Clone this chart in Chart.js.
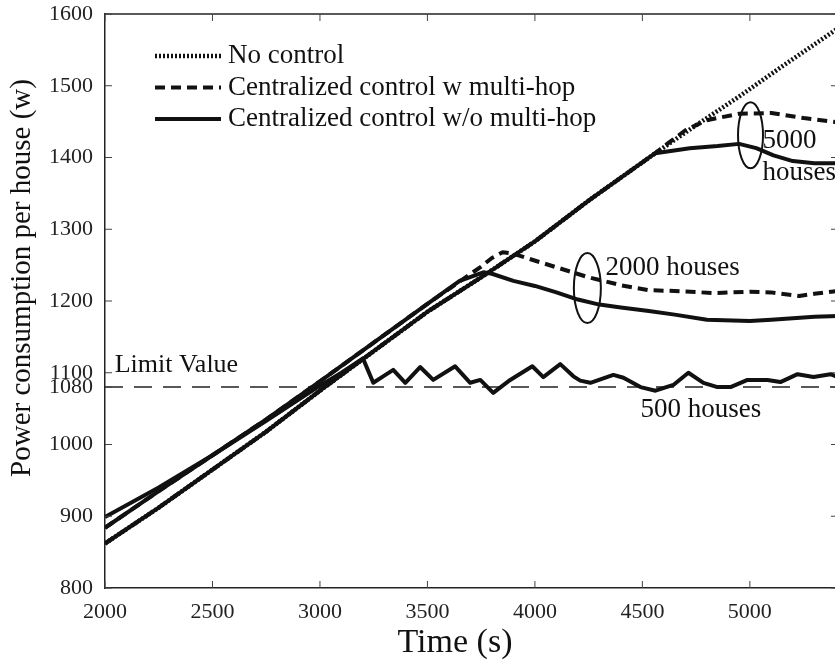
<!DOCTYPE html>
<html>
<head>
<meta charset="utf-8">
<script src="https://cdn.jsdelivr.net/npm/chart.js@4.4.1/dist/chart.umd.min.js"></script>
<style>
  html, body { margin: 0; padding: 0; background: #fff; overflow: hidden; }
  #wrap { position: relative; width: 840px; height: 663px; }
</style>
</head>
<body>
<div id="wrap"><canvas id="powerChart"></canvas></div>
<script>
// axis ticks
const timeTicks = [2000, 2500, 3000, 3500, 4000, 4500, 5000];
const powerTicks = [800, 900, 1000, 1080, 1100, 1200, 1300, 1400, 1500, 1600];
const limitValue = 1080;

// No control (dotted)
const noControlT = [2000, 2250, 2500, 2750, 3000, 3250, 3500, 3750, 4000, 4250, 4560, 4750, 4950, 5150, 5410];
const noControlV = [862, 912, 965, 1018, 1075, 1130, 1185, 1233, 1283, 1340, 1406, 1445, 1485, 1527, 1580];

// Centralized control w multi-hop (dashed)
const hop2000T = [2000, 2250, 2500, 2750, 3000, 3250, 3500, 3750, 3800, 3850, 3900, 3960, 4100, 4250, 4400, 4530, 4650, 4840, 5000, 5100, 5230, 5300, 5410];
const hop2000V = [884, 935, 985, 1035, 1088, 1142, 1196, 1248, 1260, 1268, 1266, 1260, 1247, 1233, 1222, 1215, 1214, 1211, 1213, 1212, 1207, 1210, 1214];
const hop5000T = [2000, 2250, 2500, 2750, 3000, 3250, 3500, 3750, 4000, 4250, 4560, 4620, 4700, 4800, 4950, 5100, 5250, 5410];
const hop5000V = [862, 912, 965, 1018, 1075, 1130, 1185, 1233, 1283, 1340, 1406, 1420, 1438, 1452, 1461, 1462, 1455, 1449];

// Centralized control w/o multi-hop (solid)
const direct500T = [2000, 2250, 2500, 2750, 3000, 3100, 3200, 3248, 3294, 3341, 3397, 3466, 3527, 3629, 3699, 3746, 3806, 3885, 3988, 4039, 4118, 4179, 4211, 4258, 4365, 4412, 4491, 4561, 4644, 4714, 4784, 4849, 4910, 4989, 5082, 5142, 5222, 5296, 5375, 5410];
const direct500V = [899, 940, 985, 1033, 1082, 1100, 1120, 1086, 1095, 1104, 1086, 1108, 1090, 1109, 1086, 1090, 1072, 1090, 1109, 1094, 1112, 1095, 1089, 1086, 1097, 1093, 1080, 1075, 1083, 1100, 1086, 1080, 1080, 1090, 1090, 1087, 1098, 1094, 1098, 1094];
const direct2000T = [2000, 2250, 2500, 2750, 3000, 3250, 3500, 3650, 3760, 3800, 3900, 4000, 4100, 4200, 4300, 4400, 4530, 4650, 4800, 5000, 5100, 5200, 5300, 5410];
const direct2000V = [884, 935, 985, 1035, 1088, 1142, 1196, 1228, 1240, 1238, 1228, 1221, 1212, 1202, 1195, 1191, 1186, 1181, 1174, 1172, 1174, 1176, 1178, 1179];
const direct5000T = [2000, 2250, 2500, 2750, 3000, 3250, 3500, 3750, 4000, 4250, 4560, 4720, 4850, 4950, 5030, 5110, 5200, 5300, 5410];
const direct5000V = [862, 912, 965, 1018, 1075, 1130, 1185, 1233, 1283, 1340, 1406, 1413, 1416, 1419, 1413, 1403, 1395, 1392, 1392];

const limitT = [2000, 5410];
const limitV = [limitValue, limitValue];

const SERIF = "'Liberation Serif', 'Times New Roman', serif";
const INK = '#111';

function toPoints(ts, vs) {
    return ts.map((t, i) => ({ x: t, y: vs[i] }));
}

const solidStyle = { borderColor: INK, borderWidth: 4, borderDash: [] };
const dashStyle = { borderColor: INK, borderWidth: 4, borderDash: [10, 6] };
const dotStyle = { borderColor: INK, borderWidth: 4.5, borderDash: [2, 2] };

const datasets = [
    { label: 'w/o 500', data: toPoints(direct500T, direct500V), ...solidStyle },
    { label: 'w/o 2000', data: toPoints(direct2000T, direct2000V), ...solidStyle },
    { label: 'w/o 5000', data: toPoints(direct5000T, direct5000V), ...solidStyle },
    { label: 'w 2000', data: toPoints(hop2000T, hop2000V), ...dashStyle },
    { label: 'w 5000', data: toPoints(hop5000T, hop5000V), ...dashStyle },
    { label: 'No control', data: toPoints(noControlT, noControlV), ...dotStyle },
    { label: 'Limit', data: toPoints(limitT, limitV), borderColor: '#222', borderWidth: 1.5, borderDash: [18, 11] }
];

// 凡例・注記・枠線
const overlay = {
    id: 'overlay',
    afterDraw(chart) {
        const { ctx, chartArea: a, scales: { x, y } } = chart;
        const seg = (x1, y1, x2, y2) => {
            ctx.beginPath();
            ctx.moveTo(x1, y1);
            ctx.lineTo(x2, y2);
            ctx.stroke();
        };
        ctx.save();

        // frame top / right
        ctx.strokeStyle = '#222';
        ctx.lineWidth = 1.5;
        seg(a.left, a.top, a.right, a.top);
        seg(a.right, a.top, a.right, a.bottom);

        // inward ticks
        ctx.lineWidth = 1;
        ctx.strokeStyle = '#444';
        timeTicks.forEach((t) => {
            const px = x.getPixelForValue(t);
            seg(px, a.bottom, px, a.bottom - 7);
            seg(px, a.top, px, a.top + 7);
        });
        powerTicks.forEach((v) => {
            const py = y.getPixelForValue(v);
            seg(a.left, py, a.left + 7, py);
            seg(a.right, py, a.right - 7, py);
        });

        // legend
        const legendItems = [
            { text: 'No control', style: dotStyle },
            { text: 'Centralized control w multi-hop', style: dashStyle },
            { text: 'Centralized control w/o multi-hop', style: solidStyle }
        ];
        ctx.font = `27px ${SERIF}`;
        ctx.fillStyle = INK;
        ctx.textBaseline = 'alphabetic';
        ctx.textAlign = 'left';
        legendItems.forEach((item, i) => {
            const base = a.top + 49 + i * 31.5;
            ctx.strokeStyle = INK;
            ctx.lineWidth = item.style.borderWidth;
            ctx.setLineDash(item.style.borderDash);
            seg(a.left + 50, base - 7, a.left + 116, base - 7);
            ctx.setLineDash([]);
            ctx.fillText(item.text, a.left + 123, base);
        });

        // annotations
        ctx.font = `26px ${SERIF}`;
        ctx.fillText('Limit Value', x.getPixelForValue(2045), y.getPixelForValue(1101));
        ctx.font = `27px ${SERIF}`;
        ctx.fillText('500 houses', x.getPixelForValue(4491), y.getPixelForValue(1038));
        ctx.fillText('2000 houses', x.getPixelForValue(4328), y.getPixelForValue(1236));
        ctx.fillText('5000', x.getPixelForValue(5059), y.getPixelForValue(1413));
        ctx.fillText('houses', x.getPixelForValue(5059), y.getPixelForValue(1369));

        // ellipses
        ctx.lineWidth = 2;
        ctx.strokeStyle = INK;
        [[5003, 1431, 12.5, 33], [4244, 1218, 13.5, 35]].forEach(([t, v, rx, ry]) => {
            ctx.beginPath();
            ctx.ellipse(x.getPixelForValue(t), y.getPixelForValue(v), rx, ry, 0, 0, Math.PI * 2);
            ctx.stroke();
        });

        // axis titles
        ctx.fillStyle = INK;
        ctx.textAlign = 'center';
        ctx.font = `34px ${SERIF}`;
        ctx.fillText('Time (s)', 455, 652);
        ctx.save();
        ctx.translate(30, 278);
        ctx.rotate(-Math.PI / 2);
        ctx.font = `29px ${SERIF}`;
        ctx.fillText('Power consumption per house (w)', 0, 0);
        ctx.restore();

        ctx.restore();
    }
};

new Chart(document.getElementById('powerChart'), {
    type: 'line',
    data: { datasets },
    options: {
        responsive: true,
        maintainAspectRatio: false,
        animation: false,
        devicePixelRatio: 1,
        layout: { padding: { top: 14, right: 2, left: 0, bottom: 0 } },
        elements: {
            point: { radius: 0 },
            line: { tension: 0, fill: false, borderCapStyle: 'butt', borderJoinStyle: 'round' }
        },
        plugins: {
            legend: { display: false },
            tooltip: { enabled: false }
        },
        scales: {
            x: {
                type: 'linear',
                min: 2000,
                max: 5410,
                afterBuildTicks: (scale) => {
                    scale.ticks = timeTicks.map((v) => ({ value: v }));
                },
                afterFit: (scale) => {
                    scale.height = 75;
                    scale.paddingLeft = 0;
                    scale.paddingRight = 0;
                },
                grid: { display: false },
                border: { display: true, color: '#222', width: 1.5 },
                ticks: {
                    font: { family: SERIF, size: 22 },
                    color: '#222',
                    padding: 3,
                    maxRotation: 0,
                    autoSkip: false,
                    callback: (value) => String(value)
                }
            },
            y: {
                type: 'linear',
                min: 800,
                max: 1600,
                afterBuildTicks: (scale) => {
                    scale.ticks = powerTicks.map((v) => ({ value: v }));
                },
                afterFit: (scale) => {
                    scale.width = 105;
                    scale.paddingTop = 0;
                    scale.paddingBottom = 0;
                },
                grid: { display: false },
                border: { display: true, color: '#222', width: 1.5 },
                ticks: {
                    font: { family: SERIF, size: 22 },
                    color: '#222',
                    padding: 4,
                    autoSkip: false,
                    callback: (value) => String(value)
                }
            }
        }
    },
    plugins: [overlay]
});
</script>
</body>
</html>
